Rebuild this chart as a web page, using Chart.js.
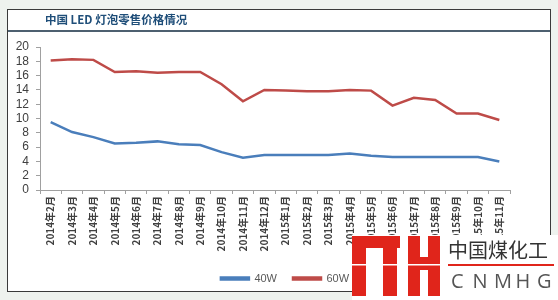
<!DOCTYPE html>
<html>
<head>
<meta charset="utf-8">
<script src="https://cdn.jsdelivr.net/npm/chart.js@4"></script>
<style>
  html, body { margin: 0; padding: 0; background: #ffffff; }
  #wrap { width: 558px; height: 300px; }
</style>
</head>
<body>
<div id="wrap"><canvas id="chart" width="558" height="300"></canvas></div>
<script>
// chart data
const months = ['2014年2月', '2014年3月', '2014年4月', '2014年5月', '2014年6月', '2014年7月',
  '2014年8月', '2014年9月', '2014年10月', '2014年11月', '2014年12月', '2015年1月',
  '2015年2月', '2015年3月', '2015年4月', '2015年5月', '2015年6月', '2015年7月',
  '2015年8月', '2015年9月', '2015年10月', '2015年11月'];
const price40W = [9.5, 8.1, 7.4, 6.5, 6.6, 6.8, 6.4, 6.3, 5.3, 4.5, 4.9, 4.9,
  4.9, 4.9, 5.1, 4.8, 4.6, 4.6, 4.6, 4.6, 4.6, 4.0];
const price60W = [18.1, 18.3, 18.2, 16.5, 16.6, 16.4, 16.5, 16.5, 14.8, 12.4, 14.0, 13.9,
  13.8, 13.8, 14.0, 13.9, 11.8, 12.9, 12.6, 10.7, 10.7, 9.8];
const yTicks = [0, 2, 4, 6, 8, 10, 12, 14, 16, 18, 20];

// frame, title bar and the watermark logo
const framePlugin = {
  id: 'frame',
  afterLayout(chart) {
    // legend sits a bit right of centre in the original
    chart.legend.left += 26;
    chart.legend.right += 26;
  },
  beforeDraw(chart) {
    const ctx = chart.ctx;
    ctx.save();
    ctx.fillStyle = '#eef2ee';
    ctx.fillRect(0, 0, 558, 300);
    ctx.fillStyle = '#ffffff';
    ctx.fillRect(7, 9, 543, 282);
    ctx.strokeStyle = '#3a3a3a';
    ctx.lineWidth = 1;
    ctx.strokeRect(7.5, 9.5, 543, 282);
    ctx.strokeStyle = '#4d6070';
    ctx.lineWidth = 2;
    ctx.beginPath();
    ctx.moveTo(8, 31);
    ctx.lineTo(550, 31);
    ctx.stroke();
    ctx.fillStyle = '#1f4e79';
    ctx.font = 'bold 11.5px "Noto Sans CJK SC", sans-serif';
    ctx.textBaseline = 'middle';
    ctx.fillText('中国 LED 灯泡零售价格情况', 45, 20);
    ctx.restore();
  },
  afterDraw(chart) {
    const ctx = chart.ctx;
    ctx.save();
    ctx.fillStyle = '#ffffff';
    ctx.fillRect(352, 235, 206, 65);
    ctx.fillStyle = '#e0251b';
    ctx.fillRect(352, 236, 14, 60);
    ctx.fillRect(352, 236, 48, 12);
    ctx.fillRect(383, 236, 14, 60);
    ctx.fillRect(408, 236, 12, 60);
    ctx.fillRect(428, 236, 12, 60);
    ctx.fillRect(408, 257, 32, 13);
    ctx.fillStyle = '#ffffff';
    ctx.fillRect(352, 264, 90, 1.5);
    ctx.fillStyle = '#333333';
    ctx.font = '20px "Noto Sans CJK SC", sans-serif';
    ctx.textBaseline = 'middle';
    ctx.fillText('中国煤化工', 448, 250);
    ctx.fillStyle = '#e0251b';
    ctx.fillRect(448, 264, 106, 2);
    ctx.fillStyle = '#555555';
    ctx.font = '20px "Open Sans", sans-serif';
    const letters = 'CNMHG';
    for (let i = 0; i < letters.length; i++) {
      ctx.fillText(letters[i], 451 + i * 21.5, 282);
    }
    ctx.restore();
  }
};

new Chart(document.getElementById('chart'), {
  type: 'line',
  data: {
    labels: months,
    datasets: [
      {
        label: '40W',
        data: price40W,
        borderColor: '#4a7ebb',
        backgroundColor: '#4a7ebb',
        borderWidth: 2.5,
        pointRadius: 0,
        tension: 0
      },
      {
        label: '60W',
        data: price60W,
        borderColor: '#be4b48',
        backgroundColor: '#be4b48',
        borderWidth: 2.5,
        pointRadius: 0,
        tension: 0
      }
    ]
  },
  options: {
    responsive: false,
    animation: false,
    layout: { padding: { left: 8, top: 47, right: 48, bottom: 6 } },
    plugins: {
      legend: {
        position: 'bottom',
        labels: {
          color: '#595959',
          font: { size: 11, family: 'Liberation Sans' },
          boxWidth: 28,
          boxHeight: 2,
          padding: 16
        }
      },
      tooltip: { enabled: false }
    },
    scales: {
      x: {
        offset: true,
        grid: { display: true, offset: true, drawOnChartArea: false, tickLength: 4, color: '#a0a0a0' },
        border: { color: '#a0a0a0' },
        ticks: {
          autoSkip: false,
          minRotation: 90,
          maxRotation: 90,
          color: '#404040',
          font: { size: 10, family: 'Noto Sans CJK SC', weight: 'bold' },
          padding: 2
        },
        afterFit(scale) { scale.height = 67; }
      },
      y: {
        min: 0,
        max: 20,
        afterBuildTicks(scale) { scale.ticks = yTicks.map(v => ({ value: v })); },
        grid: { display: true, drawOnChartArea: false, tickLength: 4, color: '#a0a0a0' },
        border: { color: '#a0a0a0' },
        ticks: {
          autoSkip: false,
          color: '#404040',
          font: { size: 12, family: 'Liberation Sans' },
          padding: 7
        },
        afterFit(scale) { scale.width = 32; }
      }
    }
  },
  plugins: [framePlugin]
});
</script>
</body>
</html>
